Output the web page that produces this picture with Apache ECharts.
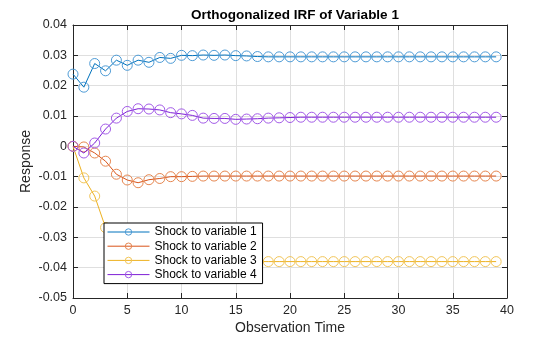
<!DOCTYPE html>
<html><head><meta charset="utf-8">
<script src="https://cdn.jsdelivr.net/npm/echarts@6/dist/echarts.min.js"></script>
<style>html,body{margin:0;padding:0;background:#fff}#c{width:560px;height:337px}</style>
</head><body><div id="c"></div>
<script>
const steps = [0,1,2,3,4,5,6,7,8,9,10,11,12,13,14,15,16,17,18,19,20,21,22,23,24,25,26,27,28,29,30,31,32,33,34,35,36,37,38,39];
const seriesNames = ['Shock to variable 1','Shock to variable 2','Shock to variable 3','Shock to variable 4'];
const shock1 = [0.0238,0.0195,0.0273,0.0249,0.0284,0.0267,0.0284,0.0277,0.0293,0.0290,0.0300,0.0299,0.0301,0.0300,0.0301,0.0299,0.0298,0.0296,0.0295,0.0295,0.0295,0.0295,0.0295,0.0295,0.0295,0.0295,0.0295,0.0295,0.0295,0.0295,0.0295,0.0295,0.0295,0.0295,0.0295,0.0295,0.0295,0.0295,0.0295,0.0295];
const shock2 = [0,-0.0002,-0.0022,-0.0049,-0.0092,-0.0111,-0.0120,-0.0110,-0.0106,-0.0100,-0.0100,-0.0099,-0.0098,-0.0098,-0.0098,-0.0098,-0.0098,-0.0098,-0.0098,-0.0098,-0.0098,-0.0098,-0.0098,-0.0098,-0.0098,-0.0098,-0.0098,-0.0098,-0.0098,-0.0098,-0.0098,-0.0098,-0.0098,-0.0098,-0.0098,-0.0098,-0.0098,-0.0098,-0.0098,-0.0098];
const shock3 = [0,-0.0104,-0.0164,-0.0268,-0.0340,-0.0385,-0.0400,-0.0402,-0.0398,-0.0392,-0.0388,-0.0384,-0.0382,-0.0380,-0.0379,-0.0379,-0.0379,-0.0380,-0.0380,-0.0380,-0.0380,-0.0380,-0.0380,-0.0380,-0.0380,-0.0380,-0.0380,-0.0380,-0.0380,-0.0380,-0.0380,-0.0380,-0.0380,-0.0380,-0.0380,-0.0380,-0.0380,-0.0380,-0.0380,-0.0380];
const shock4 = [0,-0.0022,0.0011,0.0057,0.0093,0.0115,0.0124,0.0123,0.0120,0.0111,0.0107,0.0102,0.0093,0.0092,0.0092,0.0089,0.0090,0.0091,0.0093,0.0094,0.0095,0.0096,0.0096,0.0096,0.0096,0.0096,0.0096,0.0096,0.0096,0.0096,0.0096,0.0096,0.0096,0.0096,0.0096,0.0096,0.0096,0.0096,0.0096,0.0096];
const xTicks = [0,5,10,15,20,25,30,35,40];
const yTicks = [-0.05,-0.04,-0.03,-0.02,-0.01,0,0.01,0.02,0.03,0.04];

const lineColors = ['#0072BD','#D95319','#EDB120','#7E1FD6'];
const markerColors = ['#4D9BD6','#E6864F','#F2C65A','#A35BE8'];
const allData = [shock1, shock2, shock3, shock4];
const font = 'Liberation Sans, Arial, sans-serif';

const chart = echarts.init(document.getElementById('c'), null, {renderer:'canvas'});
const axisCommon = {
  axisLine:{show:true, onZero:false, lineStyle:{color:'#262626', width:1}},
  axisTick:{show:true, inside:true, length:5, lineStyle:{color:'#262626'}},
};
chart.setOption({
  animation:false,
  backgroundColor:'#fff',
  title:{text:'Orthogonalized IRF of Variable 1', left:290, top:3, textAlign:'center',
    textStyle:{fontFamily:font, fontSize:13.5, fontWeight:'bold', color:'#000'}},
  grid:{left:73, right:53, top:25, bottom:39, containLabel:false, outerBoundsMode:'none'},
  legend:{
    data:seriesNames, orient:'vertical', left:104, top:223,
    itemWidth:42, itemHeight:8, itemGap:2.2, padding:[3,6,3,3],
    backgroundColor:'#fff', borderColor:'#000', borderWidth:1, borderRadius:0,
    lineStyle:{width:1}, itemStyle:{borderWidth:1},
    textStyle:{fontFamily:font, fontSize:12, lineHeight:12, color:'#000'}, z:10
  },
  xAxis:[
    Object.assign({type:'value', min:0, max:40, interval:5, position:'bottom',
      name:'Observation Time', nameLocation:'middle', nameGap:23, nameMoveOverlap:false,
      nameTextStyle:{fontFamily:font, fontSize:14, color:'#262626'},
      axisLabel:{fontFamily:font, fontSize:12.5, color:'#262626', margin:6},
      splitLine:{show:true, lineStyle:{color:'#dfdfdf', width:1}}}, axisCommon),
    Object.assign({type:'value', min:0, max:40, interval:5, position:'top',
      axisLabel:{show:false}, splitLine:{show:false}}, axisCommon)
  ],
  yAxis:[
    Object.assign({type:'value', min:-0.05, max:0.04, interval:0.01, position:'left',
      name:'Response', nameLocation:'middle', nameGap:40, nameRotate:90, nameMoveOverlap:false,
      nameTextStyle:{fontFamily:font, fontSize:14, color:'#262626'},
      axisLabel:{fontFamily:font, fontSize:12.5, color:'#262626', margin:6,
        formatter:function(v){ const r=Math.round(v*100)/100; return r===0?'0':r.toFixed(2);} },
      splitLine:{show:true, lineStyle:{color:'#dfdfdf', width:1}}}, axisCommon),
    Object.assign({type:'value', min:-0.05, max:0.04, interval:0.01, position:'right',
      axisLabel:{show:false}, splitLine:{show:false}}, axisCommon)
  ],
  series: seriesNames.map((n,i)=>({
    name:n, type:'line', xAxisIndex:0, yAxisIndex:0,
    data: steps.map((t,k)=>[t, allData[i][k]]),
    symbol:'circle', symbolSize:10, showSymbol:true,
    lineStyle:{color:lineColors[i], width:1},
    itemStyle:{color:'rgba(255,255,255,0)', borderColor:markerColors[i], borderWidth:1},
    emphasis:{disabled:true},
    z:2+i
  }))
});
</script></body></html>
